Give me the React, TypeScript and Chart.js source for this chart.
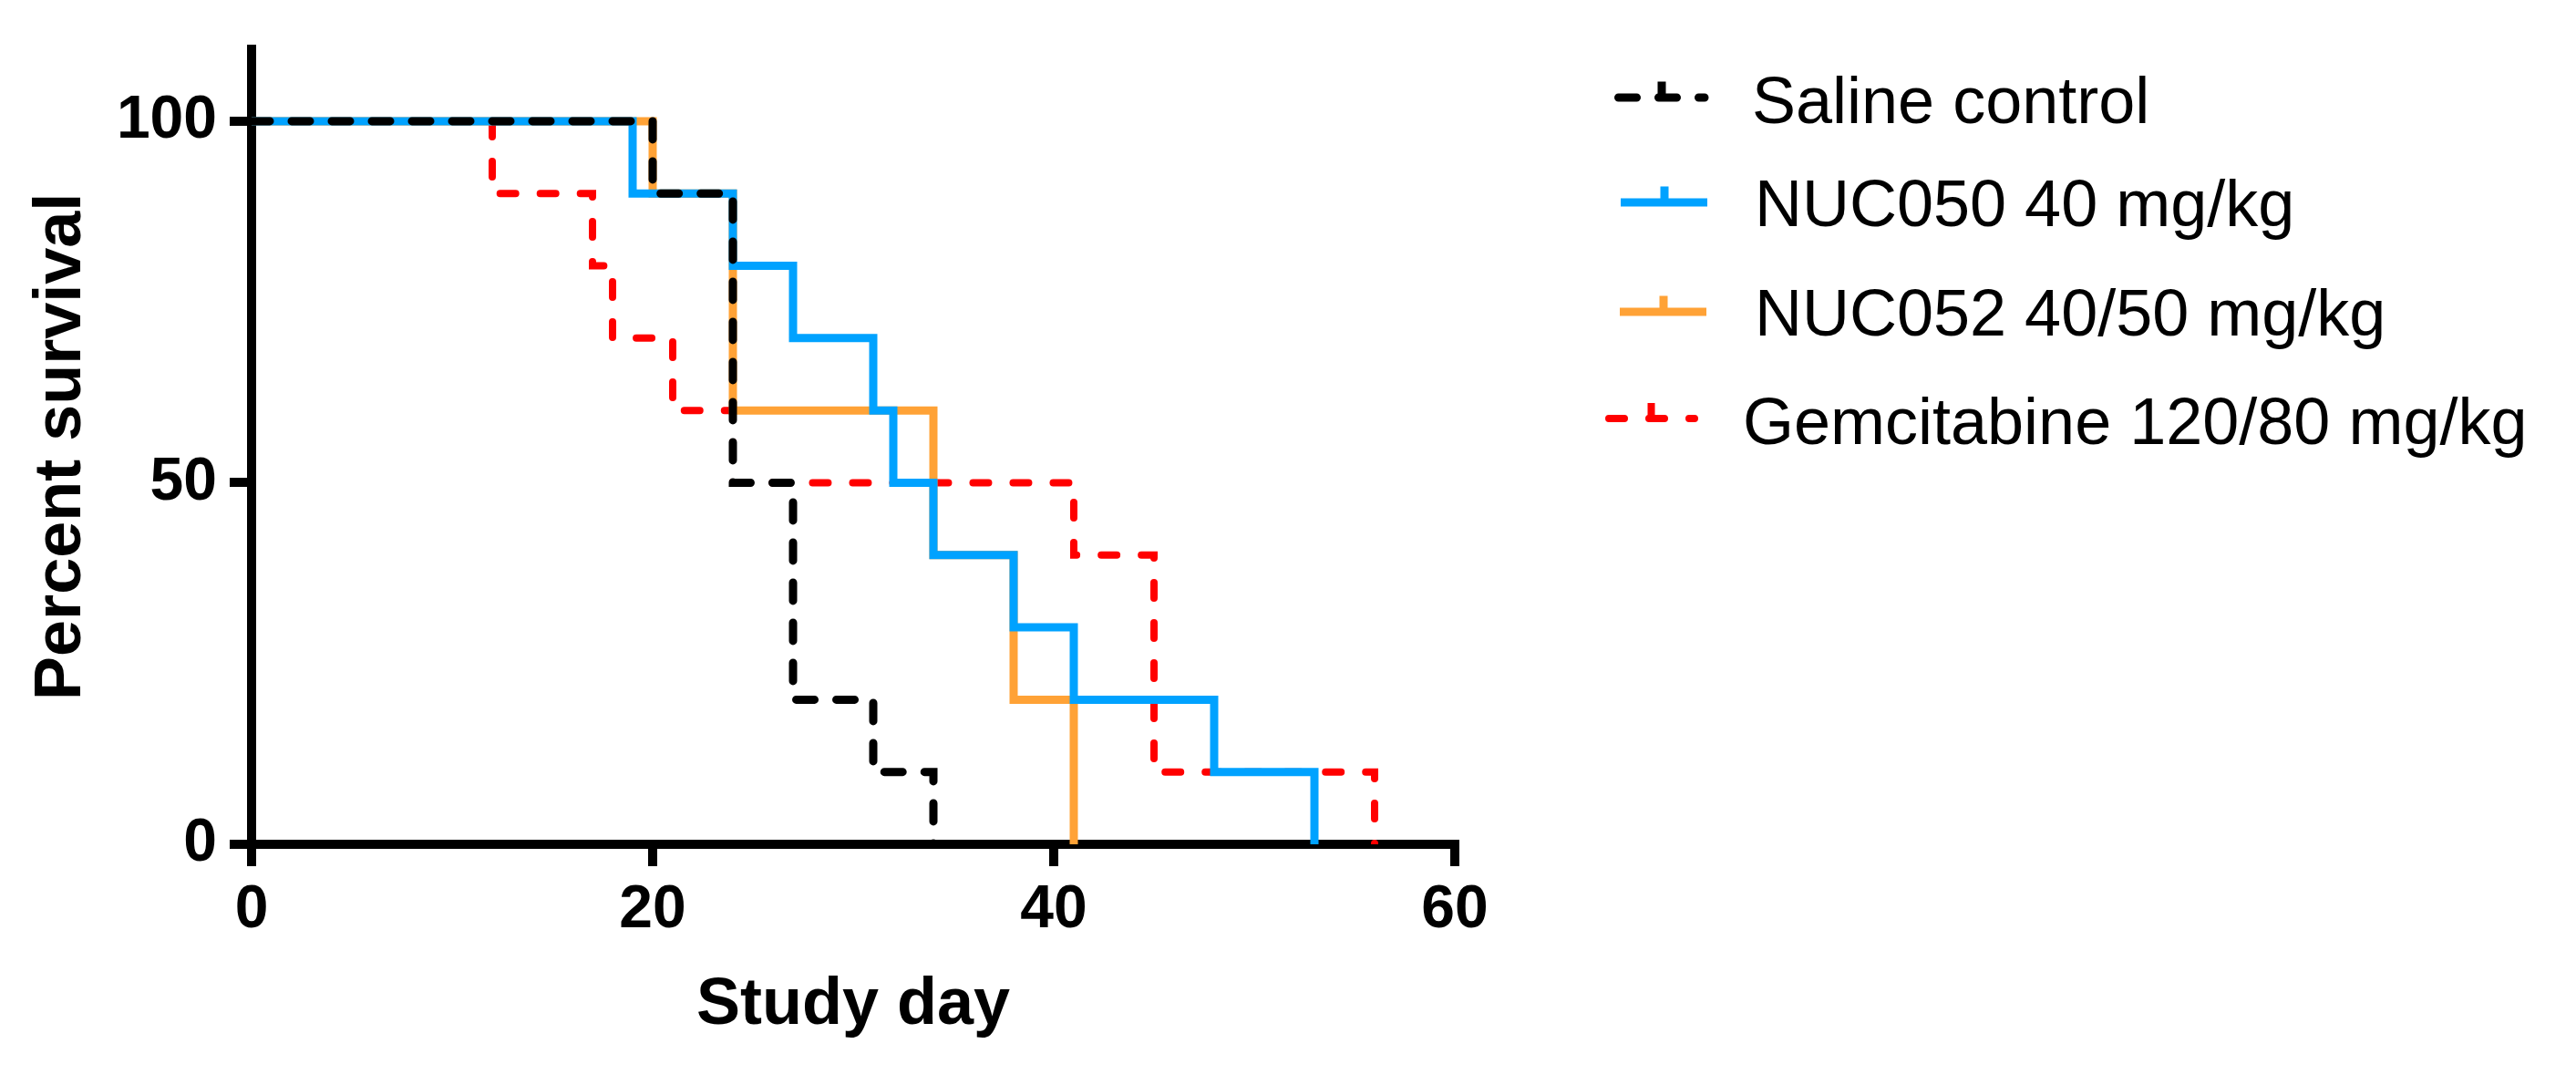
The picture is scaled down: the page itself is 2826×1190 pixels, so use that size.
import { useEffect, useRef } from 'react';
import { Chart, ChartConfiguration, Plugin } from 'chart.js/auto';

// Kaplan-Meier steps (day, percent surviving)
const salineDays = [0, 20, 24, 27, 31, 34];
const salineSurvival = [100, 90, 50, 20, 10, 0];

const nuc050Days = [0, 19, 24, 27, 31, 32, 34, 38, 41, 48, 53];
const nuc050Survival = [100, 90, 80, 70, 60, 50, 40, 30, 20, 10, 0];

const nuc052Days = [0, 20, 24, 34, 38, 41];
const nuc052Survival = [100, 90, 60, 40, 20, 0];

const gemDays = [0, 12, 17, 18, 21, 24, 41, 45, 56];
const gemSurvival = [100, 90, 80, 70, 60, 50, 40, 10, 0];

const seriesLabels = [
  'Saline control',
  'NUC050 40 mg/kg',
  'NUC052 40/50 mg/kg',
  'Gemcitabine 120/80 mg/kg',
];

const xTicks = [0, 20, 40, 60];
const yTicks = [0, 50, 100];

const FONT = "'Liberation Sans', Arial, Helvetica, sans-serif";

const toPoints = (days: number[], pct: number[]) =>
  days.map((d, i) => ({ x: d, y: pct[i] }));

// where each legend row sits on the canvas
const legendLayout = [
  { x1: 1775.5, x2: 1870, y: 107, tickX: 1823, textX: 1922, textY: 135 },
  { x1: 1778, x2: 1873, y: 222, tickX: 1826, textX: 1925, textY: 248 },
  { x1: 1777, x2: 1872, y: 342, tickX: 1825, textX: 1925, textY: 368 },
  { x1: 1765, x2: 1859, y: 459, tickX: 1811.5, textX: 1912, textY: 487 },
];

const survivalLegend: Plugin<'line'> = {
  id: 'survivalLegend',
  afterDraw(chart) {
    const ctx = chart.ctx;
    chart.data.datasets.forEach((ds: any, i) => {
      const row = legendLayout[i];
      if (!row) return;
      const color = ds.borderColor as string;
      const lw = ds.borderWidth as number;
      ctx.save();
      ctx.strokeStyle = color;
      ctx.lineWidth = lw;
      ctx.lineCap = ds.borderCapStyle || 'butt';
      ctx.setLineDash(ds.borderDash || []);
      ctx.beginPath();
      ctx.moveTo(row.x1, row.y);
      ctx.lineTo(row.x2, row.y);
      ctx.stroke();
      // censor tick
      ctx.setLineDash([]);
      ctx.fillStyle = color;
      ctx.fillRect(row.tickX - lw / 2, row.y - lw / 2 - 13, lw, 13 + lw / 2);
      ctx.fillStyle = '#000';
      ctx.font = `72px ${FONT}`;
      ctx.textBaseline = 'alphabetic';
      ctx.textAlign = 'left';
      ctx.fillText(seriesLabels[i], row.textX, row.textY);
      ctx.restore();
    });
  },
};

export default function App() {
  const chartRef = useRef<HTMLCanvasElement>(null);
  const chartInstance = useRef<Chart | null>(null);

  useEffect(() => {
    if (!chartRef.current) return;
    document.body.style.margin = '0';

    if (chartInstance.current) {
      chartInstance.current.destroy();
    }

    const ctx = chartRef.current.getContext('2d');
    if (!ctx) return;

    const config: ChartConfiguration<'line'> = {
      type: 'line',
      data: {
        datasets: [
          {
            label: seriesLabels[0],
            data: toPoints(salineDays, salineSurvival),
            borderColor: '#000000',
            borderWidth: 9,
            borderDash: [20, 24],
            borderCapStyle: 'round',
            stepped: 'before',
          },
          {
            label: seriesLabels[1],
            data: toPoints(nuc050Days, nuc050Survival),
            borderColor: '#00A2FF',
            borderWidth: 9,
            borderCapStyle: 'butt',
            stepped: 'before',
          },
          {
            label: seriesLabels[2],
            data: toPoints(nuc052Days, nuc052Survival),
            borderColor: '#FFA236',
            borderWidth: 9,
            borderCapStyle: 'butt',
            stepped: 'before',
          },
          {
            label: seriesLabels[3],
            data: toPoints(gemDays, gemSurvival),
            borderColor: '#FF0000',
            borderWidth: 8,
            borderDash: [17, 27],
            borderCapStyle: 'round',
            stepped: 'before',
          },
        ],
      },
      options: {
        responsive: false,
        devicePixelRatio: 1,
        animation: false,
        parsing: false,
        elements: {
          point: { radius: 0, hoverRadius: 0 },
          line: { borderJoinStyle: 'miter', tension: 0, fill: false },
        },
        layout: {
          padding: { top: 48, right: 1230, bottom: 0, left: 0 },
        },
        plugins: {
          legend: { display: false },
          tooltip: { enabled: false },
        },
        scales: {
          x: {
            type: 'linear',
            min: 0,
            max: 60,
            afterBuildTicks: (scale) => {
              scale.ticks = xTicks.map((v) => ({ value: v }));
            },
            afterFit: (scale) => {
              scale.height = 264;
            },
            grid: {
              drawOnChartArea: false,
              drawTicks: true,
              tickLength: 24,
              lineWidth: 10,
              color: '#000',
            },
            border: { display: true, width: 10, color: '#000' },
            ticks: {
              autoSkip: false,
              maxRotation: 0,
              padding: 9,
              color: '#000',
              font: { family: FONT, size: 66, weight: 'bold' },
            },
            title: {
              display: true,
              text: 'Study day',
              color: '#000',
              font: { family: FONT, size: 72, weight: 'bold' },
              padding: { top: 0, bottom: 44 },
            },
          },
          y: {
            type: 'linear',
            min: 0,
            max: 110,
            afterBuildTicks: (scale) => {
              scale.ticks = yTicks.map((v) => ({ value: v }));
            },
            afterFit: (scale) => {
              scale.width = 276;
            },
            grid: {
              drawOnChartArea: false,
              drawTicks: true,
              tickLength: 24,
              lineWidth: 10,
              color: '#000',
            },
            border: { display: true, width: 10, color: '#000' },
            ticks: {
              padding: 14,
              color: '#000',
              font: { family: FONT, size: 66, weight: 'bold' },
            },
            title: {
              display: true,
              text: 'Percent survival',
              color: '#000',
              font: { family: FONT, size: 72, weight: 'bold' },
              padding: { top: 25, bottom: 0 },
            },
          },
        },
      },
      plugins: [survivalLegend],
    };

    chartInstance.current = new Chart(ctx, config);

    return () => {
      if (chartInstance.current) {
        chartInstance.current.destroy();
        chartInstance.current = null;
      }
    };
  }, []);

  return (
    <div style={{ width: 2826, height: 1190, background: '#fff' }}>
      <canvas ref={chartRef} width={2826} height={1190} style={{ display: 'block' }}></canvas>
    </div>
  );
}
